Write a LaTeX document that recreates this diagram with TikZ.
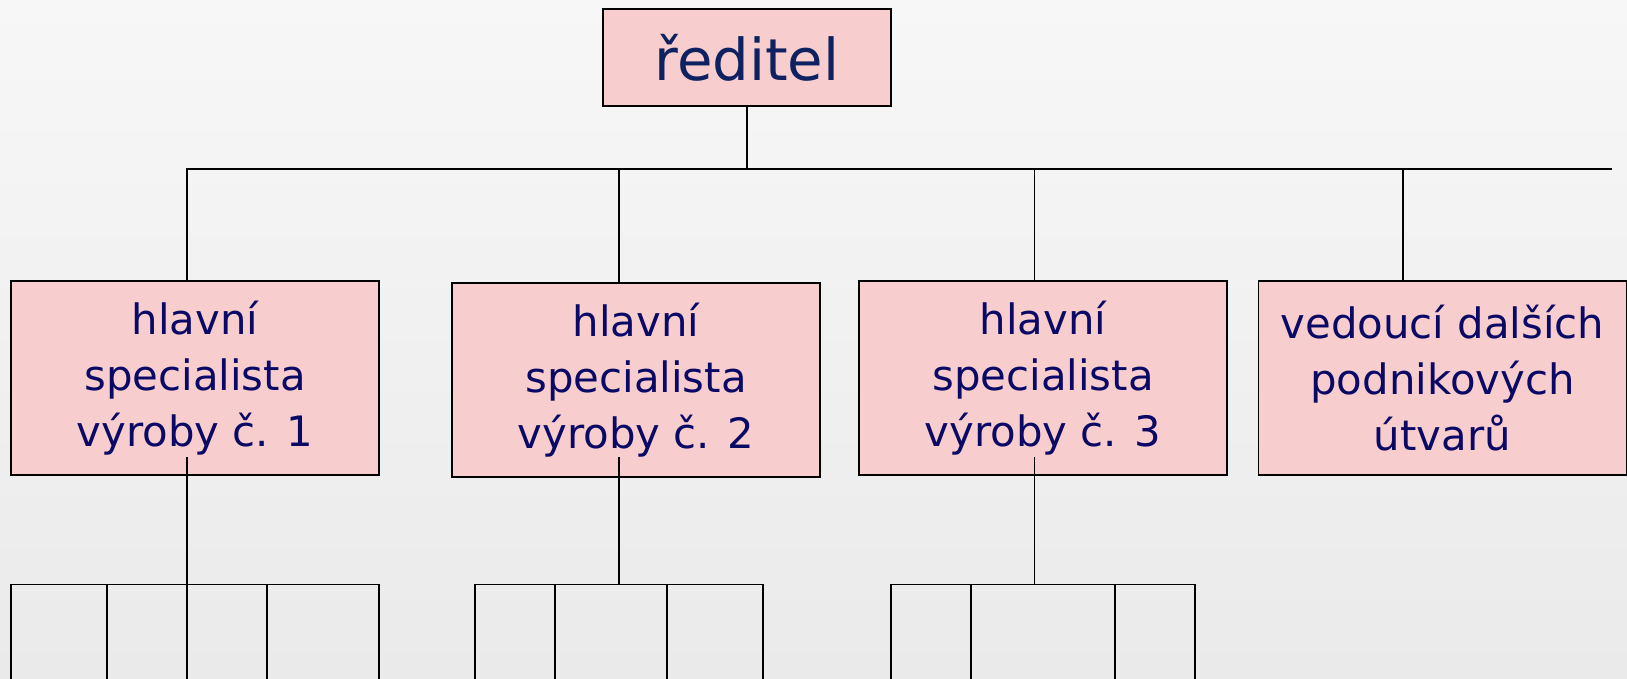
\documentclass[tikz,border=0pt]{standalone}
\usepackage{fontspec}
\setmainfont{DejaVu Sans}
\usetikzlibrary{positioning}
\definecolor{boxpink}{HTML}{F7CDCE}
\definecolor{navytop}{HTML}{0E2160}
\definecolor{navytxt}{HTML}{0A0A66}
\definecolor{bgtop}{HTML}{F7F7F7}
\definecolor{bgbot}{HTML}{EAEAEA}

\begin{document}
\begin{tikzpicture}[
    x=1bp, y=-1bp,
    unit/.style={rectangle, draw, line width=1.8bp, fill=boxpink, text=navytxt, minimum width=368bp, minimum height=194bp, align=center, inner sep=0pt, font=\fontsize{42}{56.5}\selectfont},
    head/.style={unit, text=navytop, minimum width=288bp, minimum height=97bp, font=\fontsize{58}{60}\selectfont},
    link/.style={line width=1.3bp, line cap=rect}
]
% background
\fill[top color=bgtop, bottom color=bgbot] (0,0) rectangle (1627,679);
\useasboundingbox (0,0) rectangle (1627,679);

% top
\node[head] (dir) at (747,57.5) {ředitel};

% second level
\node[unit] (s1) at (195,378) {hlavní\\specialista\\výroby č. 1};
\node[unit] (s2) at (636,380) {hlavní\\specialista\\výroby č. 2};
\node[unit] (s3) at (1043,378) {hlavní\\specialista\\výroby č. 3};
\node[unit] (ved) at (1442.5,378) {vedoucí dalších\\podnikových\\útvarů};

% upper bus
\coordinate (bus) at (747,169);
\coordinate (busL) at (187,169);
\coordinate (busR) at (1611,169);
\draw[link] (dir) -- (bus);
\draw[link] (busL) -- (busR);
\foreach \n/\x in {s1/187, s2/619, s3/1034.5, ved/1403} {
    \coordinate (d\n) at (\x,169);
    \draw[link] (d\n) -- (d\n |- \n.north);
}

% lower buses
\foreach \n/\x in {s1/187, s2/619, s3/1034.5} {
    \coordinate (c\n) at (\x,458);
    \coordinate (g\n) at (\x,584.5);
    \draw[link] (c\n) -- (g\n);
}
\foreach \x [count=\i] in {11,107,187,267,379,475,555,667,763,891,971,1115,1195} {
    \coordinate (t\i) at (\x,584.5);
    \coordinate (b\i) at (\x,679);
    \draw[link] (t\i) -- (b\i);
}
\draw[link] (t1) -- (t5);
\draw[link] (t6) -- (t9);
\draw[link] (t10) -- (t13);
\end{tikzpicture}
\end{document}
